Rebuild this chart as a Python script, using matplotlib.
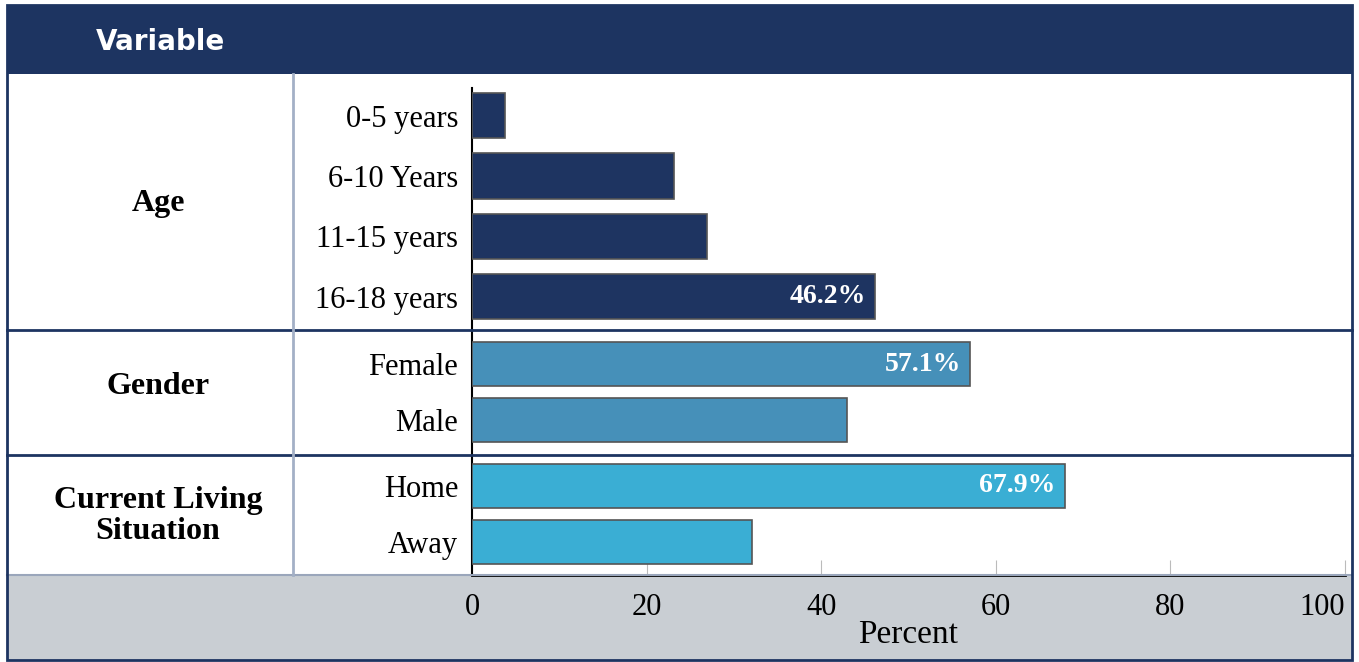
import matplotlib
matplotlib.use("Agg")
import matplotlib.pyplot as plt
from matplotlib.patches import Rectangle
from matplotlib.lines import Line2D

# data
age_labels = ["0-5 years", "6-10 Years", "11-15 years", "16-18 years"]
age_values = [3.8, 23.1, 26.9, 46.2]
gender_labels = ["Female", "Male"]
gender_values = [57.1, 42.9]
living_labels = ["Home", "Away"]
living_values = [67.9, 32.1]
group_names = ["Age", "Gender", "Current Living\nSituation"]
shown_values = {"16-18 years": "46.2%", "Female": "57.1%", "Home": "67.9%"}

W, H = 1359, 662
NAVY = "#1d3461"
GREY = "#c9ced3"
SERIF = "Liberation Serif"

fig = plt.figure(figsize=(W / 100, H / 100), dpi=100)


def fx(x):
    return x / W


def fy(y):
    return 1 - y / H


def add_rect(x0, y0, x1, y1, **kw):
    fig.add_artist(Rectangle((fx(x0), fy(y1)), fx(x1) - fx(x0), fy(y0) - fy(y1),
                             transform=fig.transFigure, **kw))


# header and footer bands
add_rect(7, 5, 1352, 74, facecolor=NAVY, edgecolor="none", zorder=-2)
add_rect(7, 575, 1352, 660, facecolor=GREY, edgecolor="none", zorder=-2)
fig.text(fx(160), fy(42), "Variable", color="white", fontsize=20, fontweight="bold",
         family="DejaVu Sans", ha="center", va="center")

# sections: (labels, values, colour, top px, bottom px, ylim, bar height)
sections = [
    (age_labels, age_values, "#1e3461", 88, 330, (3.55, -0.46), 0.75),
    (gender_labels, gender_values, "#4690b9", 330, 455, (1.625, -0.61), 0.79),
    (living_labels, living_values, "#3aaed4", 455, 575, (1.59, -0.55), 0.79),
]
group_y = [204, 386, 516]

axes = []
for i, (labels, vals, col, top, bot, ylim, h) in enumerate(sections):
    ax = fig.add_axes([fx(472), fy(bot), fx(1345) - fx(472), fy(top) - fy(bot)])
    ax.set_facecolor("none")
    pos = list(range(len(labels)))
    ax.barh(pos, vals, height=h, color=col, edgecolor="#555555", linewidth=1.2, zorder=3)
    for p, lab, v in zip(pos, labels, vals):
        if lab in shown_values:
            ax.text(v - 1.1, p, shown_values[lab], color="white", fontsize=20,
                    fontweight="bold", family=SERIF, ha="right", va="center", zorder=4)
    ax.set_xlim(0, 100)
    ax.set_ylim(*ylim)
    ax.set_yticks(pos)
    ax.set_yticklabels(labels, fontsize=22, family=SERIF, va="center_baseline")
    ax.tick_params(axis="y", length=0, pad=10)
    for s in ["top", "right", "bottom"]:
        ax.spines[s].set_visible(False)
    ax.spines["left"].set_linewidth(1.5)
    ax.spines["left"].set_color("black")
    if i < 2:
        ax.set_xticks([])
    fig.text(fx(158), fy(group_y[i]), group_names[i], fontsize=23, fontweight="bold",
             family=SERIF, ha="center", va="center", linespacing=1.05)
    axes.append(ax)

ax = axes[-1]
ax.spines["bottom"].set_visible(True)
ax.spines["bottom"].set_linewidth(2)
ax.spines["bottom"].set_color("black")
ax.set_xticks([0, 20, 40, 60, 80, 100])
ax.tick_params(axis="x", direction="in", length=11, color="#bbbbbb", labelsize=22, pad=13)
for t in ax.get_xticklabels():
    t.set_family(SERIF)
ax.get_xticklabels()[-1].set_ha("right")
ax.set_xlabel("Percent", fontsize=24, family=SERIF, labelpad=-2)

# divider lines
for y in [330, 455]:
    fig.add_artist(Line2D([fx(7), fx(1352)], [fy(y), fy(y)], color=NAVY, lw=2, zorder=5))
fig.add_artist(Line2D([fx(293), fx(293)], [fy(74), fy(575)], color="#a3b0c6", lw=2, zorder=5))
fig.add_artist(Line2D([fx(7), fx(1352)], [fy(575), fy(575)], color="#9aa6bb", lw=1.5, zorder=1))
# outer frame
add_rect(7, 5, 1352, 660, facecolor="none", edgecolor=NAVY, lw=2, zorder=6)

fig.savefig("out.png", dpi=100)
